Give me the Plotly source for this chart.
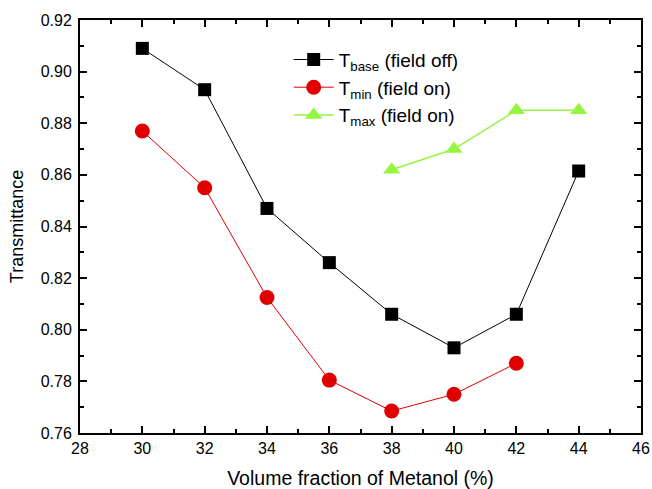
import plotly.graph_objects as go

x_base = [30, 32, 34, 36, 38, 40, 42, 44]
t_base = [0.909, 0.893, 0.847, 0.826, 0.806, 0.793, 0.806, 0.8615]
x_min = [30, 32, 34, 36, 38, 40, 42]
t_min = [0.877, 0.855, 0.8125, 0.7805, 0.7685, 0.775, 0.787]
x_max = [38, 40, 42, 44]
t_max = [0.862, 0.870, 0.885, 0.885]

font = "Liberation Sans, Arial, sans-serif"
fig = go.Figure()
fig.add_trace(go.Scatter(x=x_base, y=t_base, mode="lines+markers",
                         name="T<sub>base</sub> (field off)",
                         line=dict(color="black", width=1),
                         marker=dict(symbol="square", size=13, color="black")))
fig.add_trace(go.Scatter(x=x_min, y=t_min, mode="lines+markers",
                         name="T<sub>min</sub> (field on)",
                         line=dict(color="#e00000", width=1),
                         marker=dict(symbol="circle", size=15, color="#e00000")))
fig.add_trace(go.Scatter(x=x_max, y=t_max, mode="lines+markers",
                         name="T<sub>max</sub> (field on)",
                         line=dict(color="#95f540", width=1.5),
                         marker=dict(symbol="triangle-up", size=15, color="#95f540")))

axis_common = dict(showline=True, linecolor="black", linewidth=2, mirror="ticks",
                   ticks="inside", ticklen=7, tickwidth=2, tickcolor="black",
                   showgrid=False, zeroline=False, automargin=False,
                   tickfont=dict(family=font, size=16, color="black"))
fig.update_xaxes(range=[28, 46], dtick=2, tick0=28,
                 minor=dict(ticks="inside", ticklen=4, tickwidth=1.5, dtick=1, tickcolor="black"),
                 title=dict(text="Volume fraction of Metanol (%)", font=dict(family=font, size=19.5, color="black"), standoff=20),
                 **axis_common)
fig.update_yaxes(range=[0.76, 0.92], dtick=0.02, tick0=0.76, tickformat=".2f",
                 ticklabelstandoff=3,
                 minor=dict(ticks="inside", ticklen=4, tickwidth=1.5, dtick=0.01, tickcolor="black"),
                 title=dict(text="Transmittance", font=dict(family=font, size=18, color="black"), standoff=12),
                 **axis_common)
fig.update_layout(width=652, height=489, margin=dict(l=80, r=11, t=20, b=56),
                  plot_bgcolor="white", paper_bgcolor="white",
                  font=dict(family=font, color="black"),
                  legend=dict(x=0.372, y=0.95, xanchor="left", yanchor="top",
                              bgcolor="rgba(0,0,0,0)", font=dict(family=font, size=19, color="black"),
                              itemwidth=40, tracegroupgap=0))
fig.write_html("out.html")
